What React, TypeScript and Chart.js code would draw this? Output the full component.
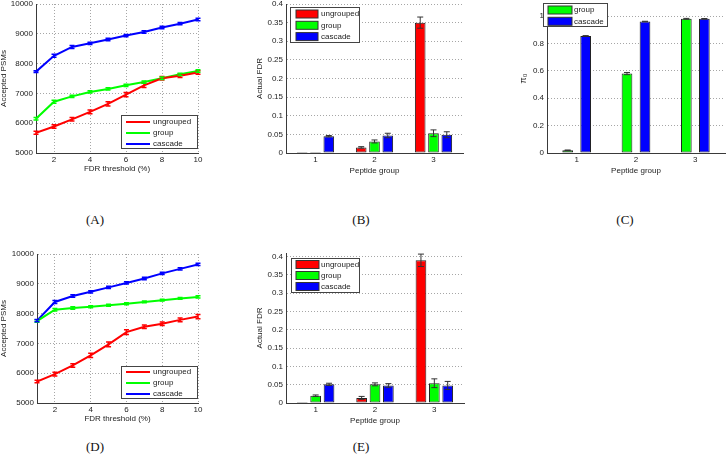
import React, { useEffect, useRef } from 'react';
import { Chart, registerables } from 'chart.js';
Chart.register(...registerables);

// ---------------- data ----------------
const fdrThresholds = [1, 2, 3, 4, 5, 6, 7, 8, 9, 10];
const lineXTicks = [2, 4, 6, 8, 10];
const psmYTicks = [5000, 6000, 7000, 8000, 9000, 10000];

// Panel A
const aUngrouped = [5680, 5890, 6130, 6380, 6650, 6960, 7270, 7510, 7590, 7700];
const aGroup = [6150, 6720, 6900, 7050, 7150, 7270, 7380, 7510, 7640, 7750];
const aCascade = [7730, 8260, 8560, 8680, 8810, 8940, 9060, 9210, 9340, 9480];
const aUngroupedErr = [50, 60, 60, 60, 70, 70, 70, 60, 60, 60];
const aGroupErr = [40, 50, 40, 40, 40, 40, 40, 40, 40, 40];
const aCascadeErr = [30, 50, 50, 40, 40, 40, 40, 40, 40, 40];

// Panel D
const dUngrouped = [5720, 5970, 6260, 6600, 6970, 7380, 7560, 7660, 7790, 7900];
const dGroup = [7750, 8130, 8190, 8230, 8280, 8330, 8390, 8450, 8510, 8560];
const dCascade = [7765, 8390, 8590, 8730, 8880, 9030, 9180, 9350, 9500, 9650];
const dUngroupedErr = [40, 60, 60, 70, 80, 80, 60, 60, 60, 70];
const dGroupErr = [40, 40, 40, 30, 30, 30, 30, 30, 30, 40];
const dCascadeErr = [40, 50, 40, 40, 40, 40, 40, 40, 40, 40];

// Bar panels
const peptideGroups = ['1', '2', '3'];
const fdrYTicksB = [0, 0.05, 0.1, 0.15, 0.2, 0.25, 0.3, 0.35, 0.4];
const pi0YTicks = [0, 0.2, 0.4, 0.6, 0.8, 1];

const bUngrouped = [0.001, 0.015, 0.35];
const bGroup = [0.001, 0.031, 0.053];
const bCascade = [0.045, 0.047, 0.049];
const bUngroupedErr = [0, 0.002, 0.015];
const bGroupErr = [0, 0.004, 0.009];
const bCascadeErr = [0.002, 0.006, 0.008];

const cGroup = [0.02, 0.58, 0.98];
const cCascade = [0.855, 0.96, 0.98];
const cGroupErr = [0.002, 0.008, 0.003];
const cCascadeErr = [0.002, 0.002, 0.002];

const eUngrouped = [0.001, 0.014, 0.39];
const eGroup = [0.02, 0.051, 0.054];
const eCascade = [0.051, 0.048, 0.048];
const eUngroupedErr = [0, 0.004, 0.017];
const eGroupErr = [0.002, 0.004, 0.012];
const eCascadeErr = [0.003, 0.005, 0.011];

const seriesNames = ['ungrouped', 'group', 'cascade'];
const panelLabels = ['(A)', '(B)', '(C)', '(D)', '(E)'];

// ---------------- style ----------------
const FONT = '"Liberation Sans", Arial, Helvetica, sans-serif';
const RED = '#ff0000';
const GREEN = '#00ff00';
const BLUE = '#0000ff';
const AXIS_COLOR = '#3a3a3a';
const TEXT_COLOR = '#222222';
const GRID_COLOR = 'rgba(0,0,0,0.35)';

const errorBarPlugin = {
  id: 'errorBars',
  afterDatasetsDraw(chart: any) {
    const ctx = chart.ctx;
    const ys = chart.scales.y;
    chart.data.datasets.forEach((ds: any, di: number) => {
      const errs = ds.errors;
      if (!errs) return;
      const meta = chart.getDatasetMeta(di);
      ctx.save();
      ctx.strokeStyle = ds.errorColor;
      ctx.lineWidth = ds.errorWidth;
      meta.data.forEach((el: any, i: number) => {
        const raw = ds.data[i];
        const v = typeof raw === 'number' ? raw : raw.y;
        const e = errs[i];
        if (!e) return;
        const x = el.x;
        const y1 = ys.getPixelForValue(v - e);
        const y2 = ys.getPixelForValue(v + e);
        const c = ds.capHalf;
        ctx.beginPath();
        ctx.moveTo(x, y1);
        ctx.lineTo(x, y2);
        ctx.moveTo(x - c, y1);
        ctx.lineTo(x + c, y1);
        ctx.moveTo(x - c, y2);
        ctx.lineTo(x + c, y2);
        ctx.stroke();
      });
      ctx.restore();
    });
  },
};

const boxLegendPlugin = {
  id: 'boxLegend',
  afterDraw(chart: any, _args: any, o: any) {
    if (!o || !o.show) return;
    const ca = chart.chartArea;
    const ctx = chart.ctx;
    const x0 = o.anchor === 'br' ? ca.right - o.w + o.dx : ca.left + o.dx;
    const y0 = o.anchor === 'br' ? ca.bottom - o.h + o.dy : ca.top + o.dy;
    ctx.save();
    ctx.fillStyle = '#ffffff';
    ctx.fillRect(x0, y0, o.w, o.h);
    ctx.strokeStyle = '#444444';
    ctx.lineWidth = 1;
    ctx.strokeRect(Math.round(x0) + 0.5, Math.round(y0) + 0.5, o.w - 1, o.h - 1);
    ctx.font = `8px ${FONT}`;
    ctx.textBaseline = 'middle';
    ctx.textAlign = 'left';
    chart.data.datasets.forEach((ds: any, i: number) => {
      const cy = y0 + o.rowY0 + i * o.rowStep;
      if (o.kind === 'line') {
        ctx.strokeStyle = ds.borderColor;
        ctx.lineWidth = 2;
        ctx.beginPath();
        ctx.moveTo(x0 + o.sw0, cy);
        ctx.lineTo(x0 + o.sw1, cy);
        ctx.stroke();
      } else {
        ctx.fillStyle = ds.backgroundColor;
        ctx.fillRect(x0 + o.sw0, cy - o.swH / 2, o.sw1 - o.sw0, o.swH);
        ctx.strokeStyle = '#333333';
        ctx.lineWidth = 1;
        ctx.strokeRect(x0 + o.sw0, cy - o.swH / 2, o.sw1 - o.sw0, o.swH);
      }
      ctx.fillStyle = TEXT_COLOR;
      ctx.fillText(ds.label, x0 + o.textX, cy);
    });
    ctx.restore();
  },
};

const fmt = (v: number) => String(Number(Number(v).toFixed(3)));

function makeScales(p: any) {
  const x: any = {
    type: p.xType,
    grid: { display: p.xGrid, drawTicks: false, color: GRID_COLOR, lineWidth: 1 },
    border: { display: true, color: AXIS_COLOR, width: 1, dash: [1, 2] },
    ticks: {
      font: { family: FONT, size: 8 },
      color: TEXT_COLOR,
      padding: p.xPad,
      maxRotation: 0,
      autoSkip: false,
    },
    title: {
      display: true,
      text: p.xTitle,
      font: { family: FONT, size: 8, lineHeight: 1.5 },
      color: TEXT_COLOR,
      padding: 0,
    },
    afterFit: (s: any) => {
      s.height = p.xHeight;
      s.paddingLeft = 0;
      s.paddingRight = 0;
      s.paddingTop = 0;
      s.paddingBottom = 0;
    },
  };
  if (p.xType === 'linear') {
    x.min = p.xMin;
    x.max = p.xMax;
    x.afterBuildTicks = (s: any) => {
      s.ticks = p.xTicks.map((v: number) => ({ value: v }));
    };
  } else {
    x.offset = true;
  }
  const y: any = {
    type: 'linear',
    min: p.yMin,
    max: p.yMax,
    grid: { display: true, drawTicks: false, color: GRID_COLOR, lineWidth: 1 },
    border: { display: true, color: AXIS_COLOR, width: 1, dash: [1, 2] },
    ticks: {
      font: { family: FONT, size: 8 },
      color: TEXT_COLOR,
      padding: 3,
      callback: (v: any) => fmt(v),
    },
    title: {
      display: true,
      text: p.yTitle,
      font: { family: FONT, size: p.yTitleSize || 8, lineHeight: 1.5 },
      color: TEXT_COLOR,
      padding: 0,
    },
    afterBuildTicks: (s: any) => {
      s.ticks = p.yTicks.map((v: number) => ({ value: v }));
    },
    afterFit: (s: any) => {
      s.width = p.yWidth;
      s.paddingLeft = 0;
      s.paddingRight = 0;
      s.paddingTop = 0;
      s.paddingBottom = 0;
    },
  };
  return { x, y };
}

function lineDataset(label: string, ys: number[], errs: number[], color: string) {
  return {
    label,
    data: fdrThresholds.map((x, i) => ({ x, y: ys[i] })),
    borderColor: color,
    backgroundColor: color,
    borderWidth: 2,
    pointRadius: 0,
    tension: 0,
    errors: errs,
    errorColor: color,
    errorWidth: 1.5,
    capHalf: 2.5,
  };
}

function barDataset(label: string, ys: number[], errs: number[], color: string, catPct: number, barPct: number) {
  return {
    label,
    data: ys,
    backgroundColor: color,
    borderColor: '#222222',
    borderWidth: 1,
    borderSkipped: false,
    minBarLength: 1,
    categoryPercentage: catPct,
    barPercentage: barPct,
    errors: errs,
    errorColor: '#333333',
    errorWidth: 1,
    capHalf: 3,
  };
}

function baseOptions(p: any, legend: any) {
  return {
    responsive: false,
    maintainAspectRatio: false,
    animation: false,
    devicePixelRatio: 1,
    events: [],
    layout: { padding: { top: p.padTop, right: p.padRight, left: 0, bottom: 0 } },
    plugins: {
      legend: { display: false },
      tooltip: { enabled: false },
      boxLegend: legend,
    },
    scales: makeScales(p),
  };
}

const lineLegend = (h: number, dy: number, rowY0: number) => ({
  show: true, kind: 'line', anchor: 'br', w: 77, h, dx: 0, dy, rowY0, rowStep: 11, sw0: 5, sw1: 29, swH: 0, textX: 32,
});

const panels: any[] = [
  {
    left: -2, top: 0, width: 214, height: 175,
    config: {
      type: 'line',
      data: {
        datasets: [
          lineDataset(seriesNames[0], aUngrouped, aUngroupedErr, RED),
          lineDataset(seriesNames[1], aGroup, aGroupErr, GREEN),
          lineDataset(seriesNames[2], aCascade, aCascadeErr, BLUE),
        ],
      },
      options: baseOptions(
        { xType: 'linear', xMin: 1, xMax: 10, xTicks: lineXTicks, xGrid: true, xPad: 1.5, xHeight: 22, xTitle: 'FDR threshold (%)',
          yMin: 5000, yMax: 10000, yTicks: psmYTicks, yWidth: 38, yTitle: 'Accepted PSMs', padTop: 4, padRight: 14 },
        lineLegend(34, -4, 7)
      ),
      plugins: [errorBarPlugin, boxLegendPlugin],
    },
  },
  {
    left: 254, top: 0, width: 225, height: 177,
    config: {
      type: 'bar',
      data: {
        labels: peptideGroups,
        datasets: [
          barDataset(seriesNames[0], bUngrouped, bUngroupedErr, RED, 0.676, 0.8),
          barDataset(seriesNames[1], bGroup, bGroupErr, GREEN, 0.676, 0.8),
          barDataset(seriesNames[2], bCascade, bCascadeErr, BLUE, 0.676, 0.8),
        ],
      },
      options: baseOptions(
        { xType: 'category', xGrid: false, xPad: 2, xHeight: 24, xTitle: 'Peptide group',
          yMin: 0, yMax: 0.4, yTicks: fdrYTicksB, yWidth: 32, yTitle: 'Actual FDR', padTop: 4, padRight: 16 },
        { show: true, kind: 'bar', anchor: 'tl', w: 70, h: 36, dx: 4, dy: 3, rowY0: 7, rowStep: 11.3, sw0: 6, sw1: 28, swH: 8, textX: 31 }
      ),
      plugins: [errorBarPlugin, boxLegendPlugin],
    },
  },
  {
    left: 517, top: 0, width: 209, height: 177,
    config: {
      type: 'bar',
      data: {
        labels: peptideGroups,
        datasets: [
          barDataset(seriesNames[1], cGroup, cGroupErr, GREEN, 0.607, 0.594),
          barDataset(seriesNames[2], cCascade, cCascadeErr, BLUE, 0.607, 0.594),
        ],
      },
      options: baseOptions(
        { xType: 'category', xGrid: false, xPad: 2, xHeight: 24, xTitle: 'Peptide group',
          yMin: 0, yMax: 1.088, yTicks: pi0YTicks, yWidth: 30, yTitle: 'π₀', yTitleSize: 9, padTop: 4, padRight: 1 },
        { show: true, kind: 'bar', anchor: 'tl', w: 65, h: 24, dx: -4, dy: -1, rowY0: 7, rowStep: 11.3, sw0: 5, sw1: 29, swH: 8, textX: 31 }
      ),
      plugins: [errorBarPlugin, boxLegendPlugin],
    },
  },
  {
    left: -2, top: 250, width: 214, height: 175,
    config: {
      type: 'line',
      data: {
        datasets: [
          lineDataset(seriesNames[0], dUngrouped, dUngroupedErr, RED),
          lineDataset(seriesNames[1], dGroup, dGroupErr, GREEN),
          lineDataset(seriesNames[2], dCascade, dCascadeErr, BLUE),
        ],
      },
      options: baseOptions(
        { xType: 'linear', xMin: 1, xMax: 10, xTicks: lineXTicks, xGrid: true, xPad: 1.5, xHeight: 22, xTitle: 'FDR threshold (%)',
          yMin: 5000, yMax: 10000, yTicks: psmYTicks, yWidth: 39, yTitle: 'Accepted PSMs', padTop: 4, padRight: 14 },
        lineLegend(33, -4, 6)
      ),
      plugins: [errorBarPlugin, boxLegendPlugin],
    },
  },
  {
    left: 254, top: 250, width: 225, height: 177,
    config: {
      type: 'bar',
      data: {
        labels: peptideGroups,
        datasets: [
          barDataset(seriesNames[0], eUngrouped, eUngroupedErr, RED, 0.676, 0.8),
          barDataset(seriesNames[1], eGroup, eGroupErr, GREEN, 0.676, 0.8),
          barDataset(seriesNames[2], eCascade, eCascadeErr, BLUE, 0.676, 0.8),
        ],
      },
      options: baseOptions(
        { xType: 'category', xGrid: false, xPad: 2, xHeight: 24, xTitle: 'Peptide group',
          yMin: 0, yMax: 0.41, yTicks: fdrYTicksB, yWidth: 32, yTitle: 'Actual FDR', padTop: 3, padRight: 15 },
        { show: true, kind: 'bar', anchor: 'tl', w: 69, h: 35, dx: 5, dy: 5, rowY0: 6.5, rowStep: 11, sw0: 5, sw1: 28, swH: 8, textX: 30 }
      ),
      plugins: [errorBarPlugin, boxLegendPlugin],
    },
  },
];

const labelPositions = [
  { x: 95, y: 219 },
  { x: 361, y: 219 },
  { x: 625, y: 219 },
  { x: 95, y: 446 },
  { x: 361, y: 446 },
];

function ChartCanvas({ spec }: { spec: any }) {
  const ref = useRef<HTMLCanvasElement>(null);
  useEffect(() => {
    const chart = new Chart(ref.current as HTMLCanvasElement, spec.config);
    return () => chart.destroy();
  }, [spec]);
  return (
    <canvas
      ref={ref}
      width={spec.width}
      height={spec.height}
      style={{ position: 'absolute', left: spec.left, top: spec.top, width: spec.width, height: spec.height }}
    />
  );
}

export default function App() {
  return (
    <div style={{ position: 'absolute', left: 0, top: 0, width: 726, height: 468, background: '#ffffff', overflow: 'hidden' }}>
      {panels.map((p, i) => (
        <ChartCanvas key={i} spec={p} />
      ))}
      {panelLabels.map((t, i) => (
        <div
          key={t}
          style={{
            position: 'absolute',
            left: labelPositions[i].x,
            top: labelPositions[i].y,
            transform: 'translate(-50%, -50%)',
            fontFamily: '"Liberation Serif", "DejaVu Serif", serif',
            fontSize: 13,
            color: '#111',
            lineHeight: 1,
            whiteSpace: 'nowrap',
          }}
        >
          {t}
        </div>
      ))}
    </div>
  );
}
